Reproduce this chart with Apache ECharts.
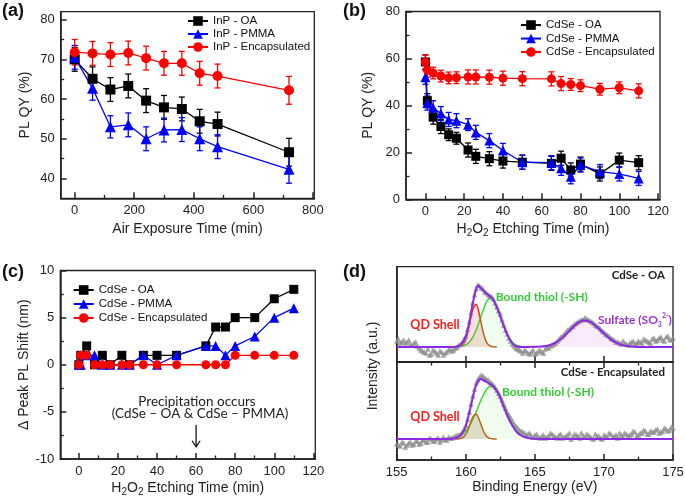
<!DOCTYPE html>
<html><head><meta charset="utf-8">
<script src="https://cdn.jsdelivr.net/npm/echarts@6/dist/echarts.min.js"></script>
<style>html,body{margin:0;padding:0;background:#fff}#c{width:685px;height:501px}</style>
</head><body><div id="c"></div>
<script>
// ---------- (a) InP, air exposure ----------
const aTime = [0, 60, 120, 180, 240, 300, 360, 420, 480, 720];
const aOA = [70.0, 65.1, 62.4, 63.3, 59.6, 57.9, 57.5, 54.4, 53.7, 46.6];
const aOAErr = [3, 3, 3, 3, 3, 3, 3, 3, 3, 3.5];
const aPMMA = [70.5, 62.7, 53.0, 53.5, 50.0, 52.2, 52.3, 50.0, 48.0, 42.3];
const aPMMAErr = [3, 3, 2.8, 3, 3, 3, 3, 3, 3, 3.5];
const aEnc = [71.8, 71.5, 71.2, 71.6, 70.3, 69.0, 69.0, 66.5, 65.8, 62.2];
const aEncErr = [3.2, 3, 3, 3, 3, 3, 3, 3, 3, 3.5];
const aNames = ['InP - OA', 'InP - PMMA', 'InP - Encapsulated'];

// ---------- (b) CdSe, H2O2 etching, PL QY ----------
const bTime = [0, 1, 4, 8, 12, 16, 22, 26, 33, 40, 50, 65, 70, 75, 80, 90, 100, 110];
const bOA = [58.5, 42, 35, 31, 27.5, 26, 21, 18.3, 17.3, 16.3, 15.8, 15.3, 17.5, 12.5, 15, 10.8, 16.7, 15.6];
const bOAErr = [3, 3, 3, 3, 2.5, 2.5, 3, 3, 3, 3, 3, 3, 3, 3, 3, 3, 3, 3];
const bPMMA = [52, 41, 39, 36.5, 34, 33.5, 31.8, 28.5, 25, 20.8, 15.8, 15.6, 13.2, 9.6, 14.6, 11.8, 10.8, 8.9];
const bPMMAErr = [3, 3, 3, 3, 3, 3, 2.5, 3, 3, 3, 3, 3, 3, 3, 3, 3, 3, 3];
const bEnc = [58.5, 55, 53.8, 52.5, 51.7, 51.8, 52.1, 52.1, 52, 51.6, 51.4, 51.3, 49.3, 48.9, 48.4, 46.9, 47.5, 46.2];
const bEncErr = [3, 3, 2.5, 2.5, 2.5, 2.5, 3, 3, 3, 3, 3, 3, 3, 2.5, 2.5, 2.5, 2.5, 3];
const cdNames = ['CdSe - OA', 'CdSe - PMMA', 'CdSe - Encapsulated'];

// ---------- (c) CdSe, peak PL shift ----------
const cTime = [0, 1, 4, 8, 12, 16, 22, 26, 33, 40, 50, 65, 70, 75, 80, 90, 100, 110];
const cOA = [0, 1, 2, 0, 1, 0, 1, 0, 1, 1, 1, 2, 4, 4, 5, 5, 7, 8];
const cPMMA = [0, 0, 1, 1, 0, 0, 0, 0, 1, 0, 1, 2, 2, 1, 2, 3, 5, 6];
const cEnc = [0, 1, 1, 0, 0, 0, 0, 0, 0, 0, 0, 0, 0, 0, 1, 1, 1, 1];

// ---------- (d) XPS S 2p ----------
const dEnergy = [155, 155.25, 155.5, 155.75, 156, 156.25, 156.5, 156.75, 157, 157.25, 157.5, 157.75, 158, 158.25, 158.5, 158.75,
  159, 159.25, 159.5, 159.75, 160, 160.25, 160.5, 160.75, 161, 161.25, 161.5, 161.75, 162, 162.25, 162.5, 162.75,
  163, 163.25, 163.5, 163.75, 164, 164.25, 164.5, 164.75, 165, 165.25, 165.5, 165.75, 166, 166.25, 166.5, 166.75,
  167, 167.25, 167.5, 167.75, 168, 168.25, 168.5, 168.75, 169, 169.25, 169.5, 169.75, 170, 170.25, 170.5, 170.75,
  171, 171.25, 171.5, 171.75, 172, 172.25, 172.5, 172.75, 173, 173.25, 173.5, 173.75, 174, 174.25, 174.5, 174.75, 175];
const dEnergyHalf = [155.125, 155.375, 155.625, 155.875, 156.125, 156.375, 156.625, 156.875, 157.125, 157.375, 157.625, 157.875, 158.125, 158.375, 158.625, 158.875,
  159.125, 159.375, 159.625, 159.875, 160.125, 160.375, 160.625, 160.875, 161.125, 161.375, 161.625, 161.875, 162.125, 162.375, 162.625, 162.875,
  163.125, 163.375, 163.625, 163.875, 164.125, 164.375, 164.625, 164.875, 165.125, 165.375, 165.625, 165.875, 166.125, 166.375, 166.625, 166.875,
  167.125, 167.375, 167.625, 167.875, 168.125, 168.375, 168.625, 168.875, 169.125, 169.375, 169.625, 169.875, 170.125, 170.375, 170.625, 170.875,
  171.125, 171.375, 171.625, 171.875, 172.125, 172.375, 172.625, 172.875, 173.125, 173.375, 173.625, 173.875, 174.125, 174.375, 174.625, 174.875];
const dTopRaw = [6, 4, 7, 5, 3, 4, 1, -3, -5, -2, -7, -4, -8, -5, -6, -3,
  -4, -1, 2, 5, 11, 25, 44, 58, 61, 58, 54, 51, 48, 40, 33, 22,
  13, 6, 1, -2, -4, -3, -6, -5, -7, -4, -5, -2, -1, 2, 4, 8,
  11, 15, 18, 21, 24, 26, 27, 28, 26, 24, 21, 18, 15, 12, 9, 7,
  5, 3, 4, 2, 5, 3, 6, 4, 7, 5, 8, 6, 9, 7, 10, 8, 9];
const dTopRaw2 = [8, 5, 4, 7, 2, 5, -1, -4, -6, -8, -3, -6, -4, -8, -5, -2,
  -3, 0, 3, 8, 18, 34, 52, 62, 59, 55, 52, 50, 44, 36, 27, 17,
  9, 3, -1, -3, -6, -4, -7, -3, -6, -3, -6, 0, 1, 3, 6, 10,
  13, 17, 20, 23, 25, 27, 29, 27, 25, 22, 20, 16, 13, 11, 8, 5,
  4, 6, 3, 4, 6, 4, 5, 8, 6, 4, 9, 7, 10, 6, 11, 7];
const dBotRaw = [-5, -7, -4, -6, -3, -5, -2, -4, -1, -3, 0, -2, 1, -1, 0, 2,
  1, 3, 4, 7, 14, 27, 43, 56, 62, 63, 60, 57, 54, 49, 43, 35,
  27, 21, 15, 11, 8, 6, 5, 3, 4, 2, 3, 1, 3, 5, 2, 4,
  1, 3, 6, 2, 4, 1, 3, 5, 2, 0, 3, 1, 4, 2, 5, 3,
  1, 4, 6, 3, 5, 7, 4, 6, 8, 5, 7, 9, 6, 8, 10, 9, 11];
const dBotRaw2 = [-6, -3, -8, -4, -6, -2, -5, -1, -3, 1, -2, 0, -3, 2, -1, 1,
  2, 4, 5, 10, 20, 35, 50, 60, 64, 61, 59, 56, 52, 46, 39, 31,
  24, 18, 13, 9, 7, 4, 6, 2, 5, 1, 4, 2, 6, 3, 1, 5,
  2, 4, 0, 5, 3, 6, 2, 4, 1, 5, 3, 0, 3, 6, 2, 4,
  6, 2, 5, 4, 8, 3, 6, 9, 5, 8, 7, 10, 7, 11, 8, 12];

const dTopEnvE = [155, 159, 159.25, 159.5, 159.75, 160, 160.25, 160.5, 160.75, 160.9, 161, 161.25, 161.5, 161.75, 162, 162.25, 162.5, 162.75, 163, 163.25, 163.5, 163.75, 164, 165.5, 166, 166.5, 167, 167.5, 168, 168.5, 169, 169.5, 170, 170.5, 171, 171.5, 172, 172.5, 175];
const dTopEnv = [0, 0, 0.2, 1, 4, 10.5, 24, 43, 58, 61, 60, 56.5, 53, 50.5, 46.5, 39.5, 30.5, 21, 12.5, 6, 2, 0.5, 0, 0.4, 1.5, 4.3, 9.2, 16, 22.8, 26.3, 25, 20, 13.5, 7.5, 3.5, 1.3, 0.4, 0, 0];
const dTopRedE = [159.25, 159.5, 159.75, 160, 160.25, 160.5, 160.75, 161, 161.25, 161.5, 161.75, 162, 162.25];
const dTopRed = [0, 0.3, 1.9, 7.8, 21.3, 37.4, 42.5, 31.5, 15.1, 4.7, 1, 0.1, 0];
const dTopGreenE = [159, 159.25, 159.5, 159.75, 160, 160.25, 160.5, 160.75, 161, 161.25, 161.5, 161.75, 162, 162.25, 162.5, 162.75, 163, 163.25, 163.5, 163.75, 164, 164.25, 164.5];
const dTopGreen = [0, 0.1, 0.3, 0.9, 2.2, 4.8, 9.6, 16.9, 26.4, 36.6, 44.9, 48.9, 47.2, 40.3, 30.5, 20.5, 12.2, 6.5, 3, 1.3, 0.5, 0.1, 0];
const dTopSulfE = [165.5, 166, 166.5, 167, 167.5, 168, 168.5, 169, 169.5, 170, 170.5, 171, 171.5, 172, 172.5];
const dTopSulf = [0.4, 1.5, 4.3, 9.2, 16, 22.8, 26.3, 25, 20, 13.5, 7.5, 3.5, 1.3, 0.4, 0];

const dBotEnvE = [155, 158.75, 159, 159.25, 159.5, 159.75, 160, 160.25, 160.5, 160.75, 161, 161.1, 161.25, 161.5, 161.75, 162, 162.25, 162.5, 162.75, 163, 163.25, 163.5, 163.75, 164, 164.25, 164.5, 164.75, 165, 165.25, 175];
const dBotEnv = [0, 0, 0.3, 0.8, 2.5, 6, 12.5, 26, 41, 54, 59.5, 60, 59, 57, 55, 52.5, 47.7, 41, 32, 23.5, 16.5, 10.5, 6, 3.5, 2, 1, 0.5, 0.2, 0, 0];
const dBotBrownE = [159.25, 159.5, 159.75, 160, 160.25, 160.5, 160.75, 161, 161.25, 161.5, 161.75, 162, 162.25];
const dBotBrown = [0, 0.2, 1.1, 4.6, 12.4, 21.8, 24.8, 18.3, 8.8, 2.8, 0.6, 0.1, 0];
const dBotGreenE = [158.75, 159, 159.25, 159.5, 159.75, 160, 160.25, 160.5, 160.75, 161, 161.25, 161.5, 161.75, 162, 162.25, 162.5, 162.75, 163, 163.25, 163.5, 163.75, 164, 164.25, 164.5, 164.75, 165, 165.25];
const dBotGreen = [0, 0.6, 1.3, 2.5, 4.6, 8, 12.8, 19.3, 27.1, 35.5, 43.4, 49.5, 52.7, 52.3, 48.5, 41.9, 33.8, 25.5, 17.9, 11.7, 7.2, 4.1, 2.2, 1.1, 0.5, 0.2, 0];

// tick labels
const aXTicks = [0, 200, 400, 600, 800], aXMinor = [100, 300, 500, 700];
const aYTicks = [40, 50, 60, 70, 80], aYMinor = [45, 55, 65, 75];
const tTicks = [0, 20, 40, 60, 80, 100, 120], tMinor = [10, 30, 50, 70, 90, 110];
const bYTicks = [0, 20, 40, 60, 80], bYMinor = [10, 30, 50, 70];
const cYTicks = [-10, -5, 0, 5, 10], cYMinor = [-7.5, -2.5, 2.5, 7.5];
const dXTicks = [155, 160, 165, 170, 175], dXMinor = [157.5, 162.5, 167.5, 172.5], dXInner = [160, 165, 170];

// ---------- styling helpers ----------
const F = '"Liberation Sans", Arial, sans-serif';
const FC = 'Lato, "Liberation Sans", sans-serif';
const AX = '#222';
const BLACK = '#000000', BLUE = '#0000ff', RED = '#ff0000';
const zip = (xs, ys) => xs.map((x, i) => [x, ys[i]]);

function major(grid, pos, min, max, ticks, labels, extra) {
  return Object.assign({
    type: 'value', gridIndex: grid, position: pos, min: min, max: max,
    axisLine: {show: true, onZero: false, lineStyle: {color: AX, width: 1.5}},
    axisTick: {show: true, inside: true, length: 6, customValues: ticks, lineStyle: {color: AX, width: 1.5}},
    axisLabel: {show: labels, customValues: ticks, fontSize: 13, fontFamily: F, color: AX, margin: 6},
    splitLine: {show: false}
  }, extra || {});
}
function minor(grid, pos, min, max, ticks, len) {
  return {
    type: 'value', gridIndex: grid, position: pos, min: min, max: max,
    axisLine: {show: false, onZero: false},
    axisTick: {show: true, inside: true, length: len || 3.5, customValues: ticks, lineStyle: {color: AX, width: 1.3}},
    axisLabel: {show: false}, splitLine: {show: false}
  };
}
function nm(text, gap, extra) {
  return Object.assign({name: text, nameLocation: 'middle', nameGap: gap,
    nameTextStyle: {fontSize: 14, fontFamily: F, color: AX}}, extra || {});
}
const h2o2Name = {
  name: '{m|H}{s|2}{m|O}{s|2}{m| Etching Time (min)}', nameLocation: 'middle',
  nameTextStyle: {rich: {
    m: {fontSize: 14, fontFamily: F, color: AX, lineHeight: 18, verticalAlign: 'middle'},
    s: {fontSize: 10, fontFamily: F, color: AX, lineHeight: 9, verticalAlign: 'bottom'}
  }}
};

function errS(xi, yi, xs, ys, es, color) {
  return {
    type: 'custom', xAxisIndex: xi, yAxisIndex: yi, silent: true,
    data: xs.map((x, i) => [x, ys[i] - es[i], ys[i] + es[i]]),
    encode: {x: 0, y: [1, 2]},
    renderItem: (params, api) => {
      const x = api.value(0);
      const lo = api.coord([x, api.value(1)]);
      const hi = api.coord([x, api.value(2)]);
      const w = 3, st = {stroke: color, lineWidth: 1.3};
      return {type: 'group', children: [
        {type: 'line', shape: {x1: lo[0], y1: lo[1], x2: hi[0], y2: hi[1]}, style: st},
        {type: 'line', shape: {x1: lo[0] - w, y1: lo[1], x2: lo[0] + w, y2: lo[1]}, style: st},
        {type: 'line', shape: {x1: hi[0] - w, y1: hi[1], x2: hi[0] + w, y2: hi[1]}, style: st}
      ]};
    }
  };
}
function lineS(name, xi, yi, xs, ys, color, symbol, size) {
  return {
    type: 'line', name: name, xAxisIndex: xi, yAxisIndex: yi, data: zip(xs, ys),
    symbol: symbol, symbolSize: size, showAllSymbol: true,
    itemStyle: {color: color}, lineStyle: {color: color, width: 1.3}, emphasis: {disabled: true}
  };
}
function curveS(xi, yi, xs, ys, color, area, width, z) {
  const s = {
    type: 'line', xAxisIndex: xi, yAxisIndex: yi, data: zip(xs, ys), symbol: 'none', smooth: 0.3,
    lineStyle: {color: color, width: width || 1.5}, silent: true, z: z || 2
  };
  if (area) s.areaStyle = {color: area, origin: 0};
  return s;
}
function rawS(xi, yi, xs, ys) {
  return {type: 'scatter', xAxisIndex: xi, yAxisIndex: yi, data: zip(xs, ys), symbol: 'triangle', symbolSize: 5.5,
    itemStyle: {color: '#8c8c8c'}, silent: true, z: 4};
}
function legend(names, left, top, gap) {
  return {
    data: names, orient: 'vertical', left: left, top: top, padding: 0, itemGap: 0,
    itemWidth: 20, itemHeight: 12, selectedMode: false,
    textStyle: {fontSize: 11.5, fontFamily: F, color: '#111', lineHeight: gap}
  };
}

const gridBase = {show: true, borderColor: AX, borderWidth: 1.3, containLabel: false, outerBoundsMode: 'none'};

const option = {
  animation: false,
  backgroundColor: '#ffffff',
  grid: [
    Object.assign({left: 60.7, top: 11.7, width: 253.6, height: 186.6}, gridBase),
    Object.assign({left: 406, top: 11.5, width: 254, height: 187.8}, gridBase),
    Object.assign({left: 60.3, top: 270.5, width: 255, height: 188.5}, gridBase),
    Object.assign({left: 396.7, top: 266.7, width: 276.3, height: 95.3}, gridBase),
    Object.assign({left: 396.7, top: 362, width: 276.3, height: 98}, gridBase)
  ],
  xAxis: [
    major(0, 'bottom', -47, 805, aXTicks, true, nm('Air Exposure Time (min)', 24)),
    minor(0, 'bottom', -47, 805, aXMinor),
    major(1, 'bottom', -10, 121, tTicks, true, Object.assign({nameGap: 21}, h2o2Name)),
    minor(1, 'bottom', -10, 121, tMinor),
    major(2, 'bottom', -9.5, 121, tTicks, true, Object.assign({nameGap: 20}, h2o2Name)),
    minor(2, 'bottom', -9.5, 121, tMinor),
    major(3, 'bottom', 155, 175, dXInner, false),
    major(4, 'bottom', 155, 175, dXTicks, true, nm('Binding Energy (eV)', 20)),
    minor(4, 'bottom', 155, 175, dXMinor),
    major(4, 'top', 155, 175, dXInner, false, {axisLine: {show: false, onZero: false}}),
    minor(4, 'top', 155, 175, dXMinor)
  ],
  yAxis: [
    major(0, 'left', 35, 82, aYTicks, true, nm('PL QY (%)', 29)),
    minor(0, 'left', 35, 82, aYMinor),
    major(1, 'left', 0, 80, bYTicks, true, nm('PL QY (%)', 31)),
    minor(1, 'left', 0, 80, bYMinor),
    major(2, 'left', -10, 10, cYTicks, true, nm('\u0394 Peak PL Shift (nm)', 26)),
    minor(2, 'left', -10, 10, cYMinor),
    {type: 'value', gridIndex: 3, min: -15, max: 80, axisLine: {show: true, onZero: false, lineStyle: {color: AX, width: 1.5}},
      axisTick: {show: false}, axisLabel: {show: false}, splitLine: {show: false}},
    {type: 'value', gridIndex: 4, min: -21, max: 77, axisLine: {show: true, onZero: false, lineStyle: {color: AX, width: 1.5}},
      axisTick: {show: false}, axisLabel: {show: false}, splitLine: {show: false}}
  ],
  legend: [
    legend(aNames, 187, 14.5, 13),
    legend(cdNames, 520, 18.3, 13.5),
    legend(cdNames, 72.7, 283, 14)
  ],
  series: [
    // (a)
    errS(0, 0, aTime, aOA, aOAErr, BLACK),
    lineS(aNames[0], 0, 0, aTime, aOA, BLACK, 'rect', 10),
    errS(0, 0, aTime, aPMMA, aPMMAErr, BLUE),
    lineS(aNames[1], 0, 0, aTime, aPMMA, BLUE, 'triangle', 11),
    errS(0, 0, aTime, aEnc, aEncErr, RED),
    lineS(aNames[2], 0, 0, aTime, aEnc, RED, 'circle', 10),
    // (b)
    errS(2, 2, bTime, bOA, bOAErr, BLACK),
    lineS(cdNames[0], 2, 2, bTime, bOA, BLACK, 'rect', 9),
    errS(2, 2, bTime, bPMMA, bPMMAErr, BLUE),
    lineS(cdNames[1], 2, 2, bTime, bPMMA, BLUE, 'triangle', 10),
    errS(2, 2, bTime, bEnc, bEncErr, RED),
    lineS(cdNames[2], 2, 2, bTime, bEnc, RED, 'circle', 9),
    // (c)
    lineS(cdNames[0], 4, 4, cTime, cOA, BLACK, 'rect', 9),
    lineS(cdNames[1], 4, 4, cTime, cPMMA, BLUE, 'triangle', 10),
    lineS(cdNames[2], 4, 4, cTime, cEnc, RED, 'circle', 9),
    // (d) top: CdSe - OA
    curveS(6, 6, dTopGreenE, dTopGreen, '#33dd33', 'rgba(110,230,110,0.16)', 1.5, 2),
    Object.assign(curveS(6, 6, dTopRedE, dTopRed, '#ff2020', 'rgba(230,80,60,0.25)', 1.5, 3), {
      lineStyle: {width: 1.5, color: new echarts.graphic.LinearGradient(0, 0, 1, 0, [
        {offset: 0, color: '#ff2020'}, {offset: 0.56, color: '#ff2020'},
        {offset: 0.6, color: '#b5651d'}, {offset: 1, color: '#b5651d'}])}
    }),
    curveS(6, 6, dTopSulfE, dTopSulf, '#8a2be2', 'rgba(225,140,240,0.25)', 1.5, 2),
    rawS(6, 6, dEnergy, dTopRaw),
    rawS(6, 6, dEnergyHalf, dTopRaw2),
    curveS(6, 6, dTopEnvE, dTopEnv, '#8a2be2', null, 2, 5),
    // (d) bottom: CdSe - Encapsulated
    curveS(7, 7, dBotGreenE, dBotGreen, '#33dd33', 'rgba(110,230,110,0.16)', 1.5, 2),
    curveS(7, 7, dBotBrownE, dBotBrown, '#b5651d', 'rgba(160,130,60,0.35)', 1.5, 3),
    rawS(7, 7, dEnergy, dBotRaw),
    rawS(7, 7, dEnergyHalf, dBotRaw2),
    curveS(7, 7, dBotEnvE, dBotEnv, '#8a2be2', null, 2, 5)
  ]
};

const chart = echarts.init(document.getElementById('c'), null, {renderer: 'canvas'});
chart.setOption(option);

function txt(id, x, y, text, size, weight, family, fill, align, extra) {
  return Object.assign({type: 'text', id: id, x: x, y: y, silent: true, style: {
    text: text, fontSize: size, fontWeight: weight, fontFamily: family, fill: fill,
    align: align || 'left', verticalAlign: 'middle'}}, extra || {});
}
const p1 = chart.convertToPixel({gridIndex: 2}, [60, -6.4]);
const p2 = chart.convertToPixel({gridIndex: 2}, [60, -8.7]);
const arrowStyle = {stroke: '#111', lineWidth: 1.3};
const SUL = '#9b30d9';
chart.setOption({graphic: {elements: [
  txt('la', 2, 11, '(a)', 18, 'bold', F, '#111'),
  txt('lb', 343, 11, '(b)', 18, 'bold', F, '#111'),
  txt('lc', 2, 272, '(c)', 18, 'bold', F, '#111'),
  txt('ld', 343, 272, '(d)', 18, 'bold', F, '#111'),
  txt('yd', 373, 366, 'Intensity (a.u.)', 14, 'normal', F, AX, 'center', {rotation: Math.PI / 2}),
  txt('t1', 665, 275, 'CdSe - OA', 11.5, 'bold', FC, '#222', 'right'),
  txt('t2', 665, 372.7, 'CdSe - Encapsulated', 11.5, 'bold', FC, '#222', 'right'),
  txt('q1', 435, 325, 'QD Shell', 12.5, 'bold', FC, '#ff1a1a', 'center'),
  txt('g1', 541.7, 296.7, 'Bound thiol (-SH)', 12, 'bold', FC, '#33cc33', 'center'),
  {type: 'text', id: 's1', x: 598, y: 320, silent: true, style: {
    text: '{m|Sulfate (SO}{sb|3}{sp|2-}{m|)}', align: 'left', verticalAlign: 'middle',
    rich: {
      m: {fontSize: 12, fontWeight: 'bold', fontFamily: FC, fill: SUL, lineHeight: 16, verticalAlign: 'middle'},
      sb: {fontSize: 7, fontWeight: 'bold', fontFamily: FC, fill: SUL, lineHeight: 7, verticalAlign: 'bottom'},
      sp: {fontSize: 7, fontWeight: 'bold', fontFamily: FC, fill: SUL, lineHeight: 7, verticalAlign: 'top'}
    }}},
  txt('g2', 548, 391.7, 'Bound thiol (-SH)', 12, 'bold', FC, '#33cc33', 'center'),
  txt('q2', 435, 416.7, 'QD Shell', 12.5, 'bold', FC, '#ff1a1a', 'center'),
  txt('n1', 197, 402, 'Precipitation occurs', 13.5, 'normal', FC, '#222', 'center'),
  txt('n2', 200, 414, '(CdSe \u2013 OA & CdSe \u2013 PMMA)', 13.5, 'normal', FC, '#222', 'center'),
  {type: 'line', id: 'ar0', silent: true, shape: {x1: p1[0], y1: p1[1], x2: p2[0], y2: p2[1]}, style: arrowStyle},
  {type: 'polyline', id: 'ar1', silent: true, shape: {points: [[p2[0] - 4, p2[1] - 6], [p2[0], p2[1]], [p2[0] + 4, p2[1] - 6]]}, style: Object.assign({fill: null}, arrowStyle)}
]}});
</script></body></html>
